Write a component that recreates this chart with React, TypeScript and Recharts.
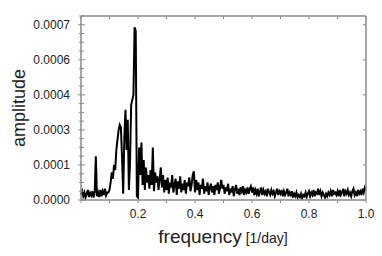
import { LineChart, Line, XAxis, YAxis } from "recharts";

// frequency grid spacing [1/day]; amplitudes below are in units of 1e-6
const FREQ_STEP = 0.004;

const amp0 = [20, 35, 15, 30, 10, 25, 40, 12, 28, 18, 35, 10, 30, 175, 15, 30, 12, 40, 15, 35, 20, 45, 18, 30, 30];
const amp1 = [40, 70, 110, 85, 140, 120, 200, 240, 280, 300, 290, 170, 25, 250, 360, 200, 320, 40, 150, 380, 400, 420, 690, 675, 15];
const amp2 = [10, 210, 100, 230, 60, 160, 40, 130, 70, 100, 45, 120, 60, 210, 35, 110, 70, 95, 40, 85, 130, 50, 100, 30, 80];
const amp3 = [40, 90, 25, 70, 50, 100, 30, 60, 85, 20, 75, 45, 95, 30, 65, 40, 80, 25, 70, 55, 90, 35, 60, 100, 115];
const amp4 = [30, 80, 40, 70, 20, 60, 45, 85, 25, 55, 35, 70, 20, 50, 65, 30, 55, 20, 60, 40, 70, 25, 50, 80, 45];
const amp5 = [60, 25, 50, 35, 65, 20, 45, 30, 55, 15, 40, 60, 25, 45, 20, 50, 35, 55, 20, 40, 30, 50, 25, 45, 55];
const amp6 = [30, 50, 20, 40, 25, 45, 15, 35, 50, 20, 40, 25, 35, 15, 45, 30, 20, 40, 25, 35, 15, 30, 45, 20, 35];
const amp7 = [25, 40, 15, 35, 20, 30, 45, 15, 30, 20, 35, 10, 25, 15, 30, 10, 20, 12, 25, 8, 20, 15, 30, 12, 25];
const amp8 = [35, 15, 30, 20, 40, 15, 30, 25, 45, 20, 35, 15, 30, 20, 10, 25, 15, 30, 20, 35, 15, 40, 25, 30, 20];
const amp9 = [35, 15, 40, 20, 30, 45, 15, 35, 25, 40, 20, 30, 15, 35, 45, 20, 30, 15, 40, 25, 35, 20, 45, 30, 50, 40];

const amplitude = [...amp0, ...amp1, ...amp2, ...amp3, ...amp4, ...amp5, ...amp6, ...amp7, ...amp8, ...amp9];

const data = amplitude.map((a, i) => ({ freq: +(i * FREQ_STEP).toFixed(3), amp: a }));

const xTicks = [0, 0.1, 0.2, 0.3, 0.4, 0.5, 0.6, 0.7, 0.8, 0.9, 1];
const xLabels = [0.2, 0.4, 0.6, 0.8, 1];
const yTicks = [0, 35, 70, 105, 140, 175, 210, 245, 280, 315, 350, 385, 420, 455, 490, 525, 560, 595, 630, 665, 700, 735];
const yMajor = [0, 140, 280, 420, 560, 700];

const GREY = "#8a8a8a";
const TEXT = "#222";
const FONT = "'Liberation Sans', Arial, Helvetica, sans-serif";

function LeftTick({ x, y, payload }: any) {
  const major = yMajor.includes(payload.value);
  return (
    <g>
      <line x1={x - (major ? 3 : 2)} x2={x + (major ? 4 : 3)} y1={y} y2={y} stroke={GREY} />
      {major && (
        <text x={x - 11} y={y + 4} textAnchor="end" fontSize={12} fill={TEXT} fontFamily={FONT}>
          {(payload.value / 1e6).toFixed(4)}
        </text>
      )}
    </g>
  );
}

function RightTick({ x, y, payload }: any) {
  if (!yMajor.includes(payload.value)) return <g />;
  return <line x1={x - 3} x2={x} y1={y} y2={y} stroke={GREY} />;
}

function BottomTick({ x, y, payload }: any) {
  const labelled = xLabels.includes(payload.value);
  return (
    <g>
      <line x1={x} x2={x} y1={y} y2={y + 3} stroke={GREY} />
      {labelled && (
        <text x={x} y={y + 18} textAnchor="middle" fontSize={12} fill={TEXT} fontFamily={FONT}>
          {payload.value.toFixed(1)}
        </text>
      )}
    </g>
  );
}

function TopTick({ x, y }: any) {
  return <line x1={x} x2={x} y1={y} y2={y + 3} stroke={GREY} />;
}

export default function App() {
  return (
    <div style={{ position: "absolute", left: 0, top: 0, width: 382, height: 256, background: "#fff" }}>
      <LineChart width={382} height={256} data={data} margin={{ top: 0, right: 1, bottom: 0, left: 0 }}>
        <XAxis
          xAxisId="bottom"
          dataKey="freq"
          type="number"
          domain={[0, 1]}
          ticks={xTicks}
          interval={0}
          height={56}
          tickSize={0}
          tickMargin={0}
          tickLine={false}
          axisLine={{ stroke: GREY, strokeWidth: 1.5 }}
          tick={(p: any) => <BottomTick {...p} />}
        />
        <XAxis
          xAxisId="top"
          orientation="top"
          dataKey="freq"
          type="number"
          domain={[0, 1]}
          allowDataOverflow
          ticks={xTicks}
          interval={0}
          height={16}
          tickSize={0}
          tickMargin={0}
          tickLine={false}
          axisLine={{ stroke: GREY, strokeWidth: 1.5 }}
          tick={(p: any) => <TopTick {...p} />}
        />
        <YAxis
          yAxisId="left"
          type="number"
          domain={[0, 735]}
          allowDataOverflow
          ticks={yTicks}
          interval={0}
          width={81}
          tickSize={0}
          tickMargin={0}
          tickLine={false}
          axisLine={{ stroke: GREY, strokeWidth: 1.5 }}
          tick={(p: any) => <LeftTick {...p} />}
        />
        <YAxis
          yAxisId="right"
          orientation="right"
          type="number"
          domain={[0, 735]}
          allowDataOverflow
          ticks={yTicks}
          interval={0}
          width={15}
          tickSize={0}
          tickMargin={0}
          tickLine={false}
          axisLine={{ stroke: GREY, strokeWidth: 1.5 }}
          tick={(p: any) => <RightTick {...p} />}
        />
        <Line
          xAxisId="bottom"
          yAxisId="left"
          type="linear"
          dataKey="amp"
          stroke="#000"
          strokeWidth={2}
          dot={false}
          isAnimationActive={false}
        />
      </LineChart>
      <svg width={382} height={256} style={{ position: "absolute", left: 0, top: 0, pointerEvents: "none" }}>
        <text transform="translate(25,108) rotate(-90)" textAnchor="middle" fontSize={18} fill={TEXT} fontFamily={FONT}>
          amplitude
        </text>
        <text x={223} y={243} textAnchor="middle" fill={TEXT} fontFamily={FONT}>
          <tspan fontSize={19}>frequency</tspan>
          <tspan fontSize={14}> [1/day]</tspan>
        </text>
      </svg>
    </div>
  );
}
